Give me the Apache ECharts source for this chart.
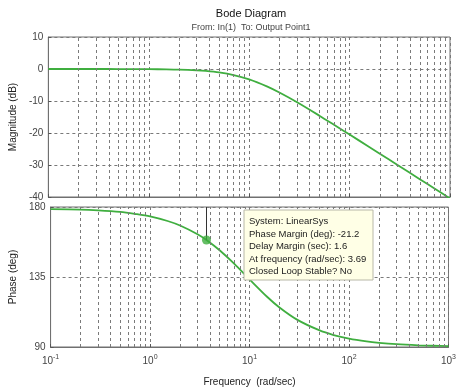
<!DOCTYPE html>
<html><head><meta charset="utf-8">
<script src="https://cdn.jsdelivr.net/npm/echarts@6/dist/echarts.min.js"></script>
<style>html,body{margin:0;padding:0;background:#fff}#c{width:459px;height:388px}</style>
</head><body><div id="c"></div>
<script>
var freq = [0.1,0.2,0.3,0.5,0.7,1,1.5,2,3,3.69,5,7,10,15,20,30,50,70,100,150,200,300,500,700,1000];
var magnitude = [0,-0.002,-0.004,-0.012,-0.024,-0.048,-0.107,-0.188,-0.413,-0.611,-1.063,-1.883,-3.24,-5.43,-7.35,-10.40,-14.58,-17.43,-20.48,-23.98,-26.47,-29.99,-34.43,-37.35,-40.45];
var phase = [178.6,178.3,177.8,176.8,175.6,174.0,171.0,168.1,162.5,158.8,152.2,143.6,133.5,122.3,115.4,107.6,100.8,97.7,95.4,93.6,92.7,91.8,91.1,90.8,90.5];
var marginPoint = [3.69, 158.8];
var xTickExponents = {'0.1':'-1','1':'0','10':'1','100':'2','1000':'3'};
var minorGrid = [0.2,0.3,0.4,0.5,0.6,0.7,0.8,0.9,2,3,4,5,6,7,8,9,20,30,40,50,60,70,80,90,200,300,400,500,600,700,800,900];
var tipLines = ['System: LinearSys','Phase Margin (deg): -21.2','Delay Margin (sec): 1.6','At frequency (rad/sec): 3.69','Closed Loop Stable? No'];

var FONT = 'Liberation Sans, Arial, sans-serif';
var GREEN = '#3fae3f';
var gridDash = {color:'#7a7a7a', width:1, type:[3,3]};

function minorLines(){
  return {silent:true, symbol:['none','none'], label:{show:false},
    lineStyle:gridDash, animation:false,
    data: minorGrid.map(function(v){return {xAxis:v};})};
}
function xAx(gi, showLabel){
  return {type:'log', logBase:10, gridIndex:gi, min:0.1, max:1000, splitNumber:4,
    axisLine:{show:true, onZero:false, lineStyle:{color:'#707070'}},
    axisTick:{show:true, inside:true, length:3, lineStyle:{color:'#555'}},
    splitLine:{show:true, lineStyle:gridDash},
    axisLabel:{show:showLabel, margin:7, color:'#444', fontFamily:FONT,
      formatter:function(v){var k=String(+v.toPrecision(3)); var e=xTickExponents[k]; return e===undefined?'':'{b|10}{s|'+e+'}';},
      rich:{b:{fontSize:10,color:'#444',fontFamily:FONT}, s:{fontSize:7,color:'#444',fontFamily:FONT,padding:[0,0,7,0]}}},
    name: showLabel ? 'Frequency  (rad/sec)' : '', nameLocation:'middle', nameGap:30,
    nameTextStyle:{fontSize:10, color:'#222', fontFamily:FONT}
  };
}
function yAx(gi, min, max, interval, name){
  return {type:'value', gridIndex:gi, min:min, max:max, interval:interval,
    axisLine:{show:true, onZero:false, lineStyle:{color:'#707070'}},
    axisTick:{show:true, inside:true, length:3, lineStyle:{color:'#555'}},
    splitLine:{show:true, lineStyle:gridDash},
    axisLabel:{fontSize:10, color:'#444', fontFamily:FONT, margin:5},
    name:name, nameLocation:'middle', nameGap:27,
    nameTextStyle:{fontSize:10, color:'#222', fontFamily:FONT}
  };
}

var chart = echarts.init(document.getElementById('c'), null, {renderer:'canvas'});
var option = {
  animation:false,
  backgroundColor:'#fff',
  title:{text:'Bode Diagram', subtext:'From: In(1)  To: Output Point1', left:246, textAlign:'center', top:3, itemGap:4,
    textStyle:{fontSize:11, fontWeight:'normal', color:'#111', fontFamily:FONT},
    subtextStyle:{fontSize:9, color:'#444', fontFamily:FONT}},
  grid:[
    {left:43, right:9, top:37, height:160, show:true, borderColor:'#707070', borderWidth:1, backgroundColor:'transparent'},
    {left:43, right:9, top:207, height:140, show:true, borderColor:'#707070', borderWidth:1, backgroundColor:'transparent'}
  ],
  xAxis:[xAx(0,false), xAx(1,true)],
  yAxis:[yAx(0,-40,10,10,'Magnitude (dB)'), yAx(1,90,180,45,'Phase (deg)')],
  series:[
    {type:'line', xAxisIndex:0, yAxisIndex:0, data:freq.map(function(f,i){return [f,magnitude[i]];}),
      smooth:0.3, showSymbol:false, clip:true, lineStyle:{color:GREEN, width:1.8}, markLine:minorLines(), z:3},
    {type:'line', xAxisIndex:1, yAxisIndex:1, data:freq.map(function(f,i){return [f,phase[i]];}),
      smooth:0.3, showSymbol:false, clip:true, lineStyle:{color:GREEN, width:1.8}, markLine:minorLines(), z:3},
    {type:'scatter', xAxisIndex:1, yAxisIndex:1, data:[marginPoint], symbolSize:9, itemStyle:{color:GREEN}, z:5,
      markLine:{silent:true, symbol:['none','none'], label:{show:false}, lineStyle:{color:'#333', width:1, type:'solid'},
        data:[[{coord:[marginPoint[0], marginPoint[1]]},{coord:[marginPoint[0], 180]}]]}}
  ]
};
chart.setOption(option);

var bx = 244, by = 210;
chart.setOption({graphic:[
  {type:'rect', shape:{x:bx, y:by, width:129, height:70}, style:{fill:'#ffffe6', stroke:'#b8b8a8', lineWidth:1}, z:100},
  {type:'text', x:bx+5, y:by+5, style:{text:tipLines.join('\n'), font:'9.5px '+FONT, fill:'#222', lineHeight:12.6}, z:101}
]});
</script></body></html>
